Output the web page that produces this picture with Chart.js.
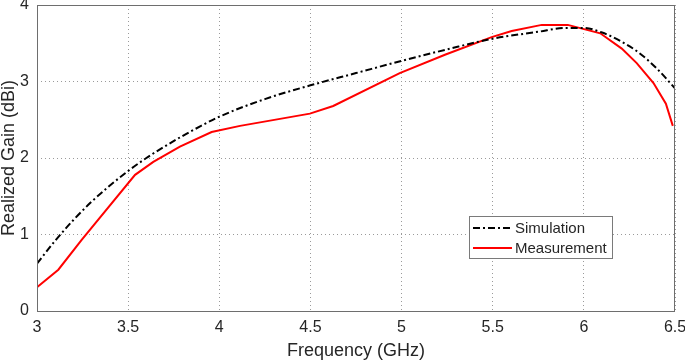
<!DOCTYPE html>
<html>
<head>
<meta charset="utf-8">
<script src="https://cdn.jsdelivr.net/npm/chart.js@4.4.0/dist/chart.umd.min.js"></script>
<style>
  html, body { margin: 0; padding: 0; background: #fff; }
  #wrap { width: 685px; height: 362px; }
</style>
</head>
<body>
<div id="wrap"><canvas id="gainChart" width="685" height="362"></canvas></div>
<script>
// Data
const simFreq = [3.0, 3.1, 3.2, 3.3, 3.4, 3.5, 3.6, 3.7, 3.8, 3.9, 4.0, 4.25, 4.5, 4.75, 5.0, 5.25, 5.5, 5.75, 5.9, 6.0, 6.1, 6.2, 6.3, 6.4, 6.5];
const simGain = [0.62, 0.92, 1.19, 1.43, 1.64, 1.83, 2.00, 2.15, 2.29, 2.42, 2.54, 2.77, 2.95, 3.11, 3.27, 3.42, 3.56, 3.65, 3.70, 3.70, 3.64, 3.53, 3.38, 3.17, 2.91];

const measFreq = [3.0, 3.117, 3.245, 3.538, 3.638, 3.784, 3.958, 4.114, 4.497, 4.625, 4.99, 5.238, 5.494, 5.604, 5.769, 5.912, 6.09, 6.208, 6.29, 6.382, 6.45, 6.488];
const measGain = [0.31, 0.54, 0.93, 1.78, 1.95, 2.15, 2.34, 2.42, 2.58, 2.68, 3.11, 3.35, 3.58, 3.66, 3.74, 3.74, 3.63, 3.43, 3.24, 2.98, 2.71, 2.42];

const seriesLabels = ["Simulation", "Measurement"];
const textColor = "#262626";
const fontFamily = "'Liberation Sans', Arial, sans-serif";

function toPoints(xs, ys) {
    return xs.map((x, i) => ({ x: x, y: ys[i] }));
}

// Cadre autour de la zone de tracé + légende à l'intérieur
const frameAndLegend = {
    id: "frameAndLegend",
    afterDraw(chart) {
        const { ctx, chartArea } = chart;
        ctx.save();
        ctx.strokeStyle = "#6e6e6e";
        ctx.lineWidth = 1;
        ctx.strokeRect(chartArea.left + 0.5, chartArea.top + 0.5,
            chartArea.right - chartArea.left - 1, chartArea.bottom - chartArea.top);

        // legend box
        const bx = 469, by = 216, bw = 143, bh = 42;
        ctx.fillStyle = "#fff";
        ctx.fillRect(bx, by, bw, bh);
        ctx.strokeStyle = "#7a7a7a";
        ctx.strokeRect(bx + 0.5, by + 0.5, bw, bh);
        ctx.font = "15px " + fontFamily;
        ctx.textBaseline = "middle";
        chart.data.datasets.forEach((ds, i) => {
            const y = by + 12 + i * 20;
            ctx.strokeStyle = ds.borderColor;
            ctx.lineWidth = 2;
            ctx.setLineDash(ds.borderDash || []);
            ctx.beginPath();
            ctx.moveTo(bx + 4, y);
            ctx.lineTo(bx + 43, y);
            ctx.stroke();
            ctx.setLineDash([]);
            ctx.fillStyle = textColor;
            ctx.fillText(ds.label, bx + 46, y + 1);
        });
        ctx.restore();
    }
};

new Chart(document.getElementById("gainChart").getContext("2d"), {
    type: "line",
    data: {
        datasets: [
            {
                label: seriesLabels[0],
                data: toPoints(simFreq, simGain),
                borderColor: "#000000",
                borderWidth: 2,
                borderDash: [7, 3, 2, 3],
                pointRadius: 0,
                cubicInterpolationMode: "monotone",
                fill: false
            },
            {
                label: seriesLabels[1],
                data: toPoints(measFreq, measGain),
                borderColor: "#ff0000",
                borderWidth: 2,
                pointRadius: 0,
                tension: 0,
                fill: false
            }
        ]
    },
    options: {
        responsive: false,
        animation: false,
        layout: { padding: 0 },
        plugins: {
            legend: { display: false },
            tooltip: { enabled: false }
        },
        scales: {
            x: {
                type: "linear",
                min: 3,
                max: 6.5,
                afterFit(scale) {
                    scale.height = 51;
                    scale.paddingLeft = 0;
                    scale.paddingRight = 10;
                },
                ticks: {
                    stepSize: 0.5,
                    padding: 7,
                    color: textColor,
                    font: { family: fontFamily, size: 16 },
                    maxRotation: 0,
                    callback: (v) => String(v)
                },
                grid: {
                    color: "#9a9a9a",
                    drawTicks: false
                },
                border: { display: false, dash: [1, 3] },
                title: {
                    display: true,
                    text: "Frequency (GHz)",
                    color: textColor,
                    font: { family: fontFamily, size: 18, lineHeight: 1.2 },
                    padding: { top: 0, bottom: 0 }
                }
            },
            y: {
                type: "linear",
                min: 0,
                max: 4,
                afterFit(scale) {
                    scale.width = 37;
                    scale.paddingTop = 5;
                    scale.paddingBottom = 0;
                },
                ticks: {
                    stepSize: 1,
                    padding: 8,
                    color: textColor,
                    font: { family: fontFamily, size: 16 },
                    callback: (v) => String(v)
                },
                grid: {
                    color: "#9a9a9a",
                    drawTicks: false
                },
                border: { display: false, dash: [1, 3] },
                title: {
                    display: true,
                    text: "Realized Gain (dBi)",
                    color: textColor,
                    font: { family: fontFamily, size: 18, lineHeight: 1 },
                    padding: { top: 0, bottom: 0 }
                }
            }
        }
    },
    plugins: [frameAndLegend]
});
</script>
</body>
</html>
